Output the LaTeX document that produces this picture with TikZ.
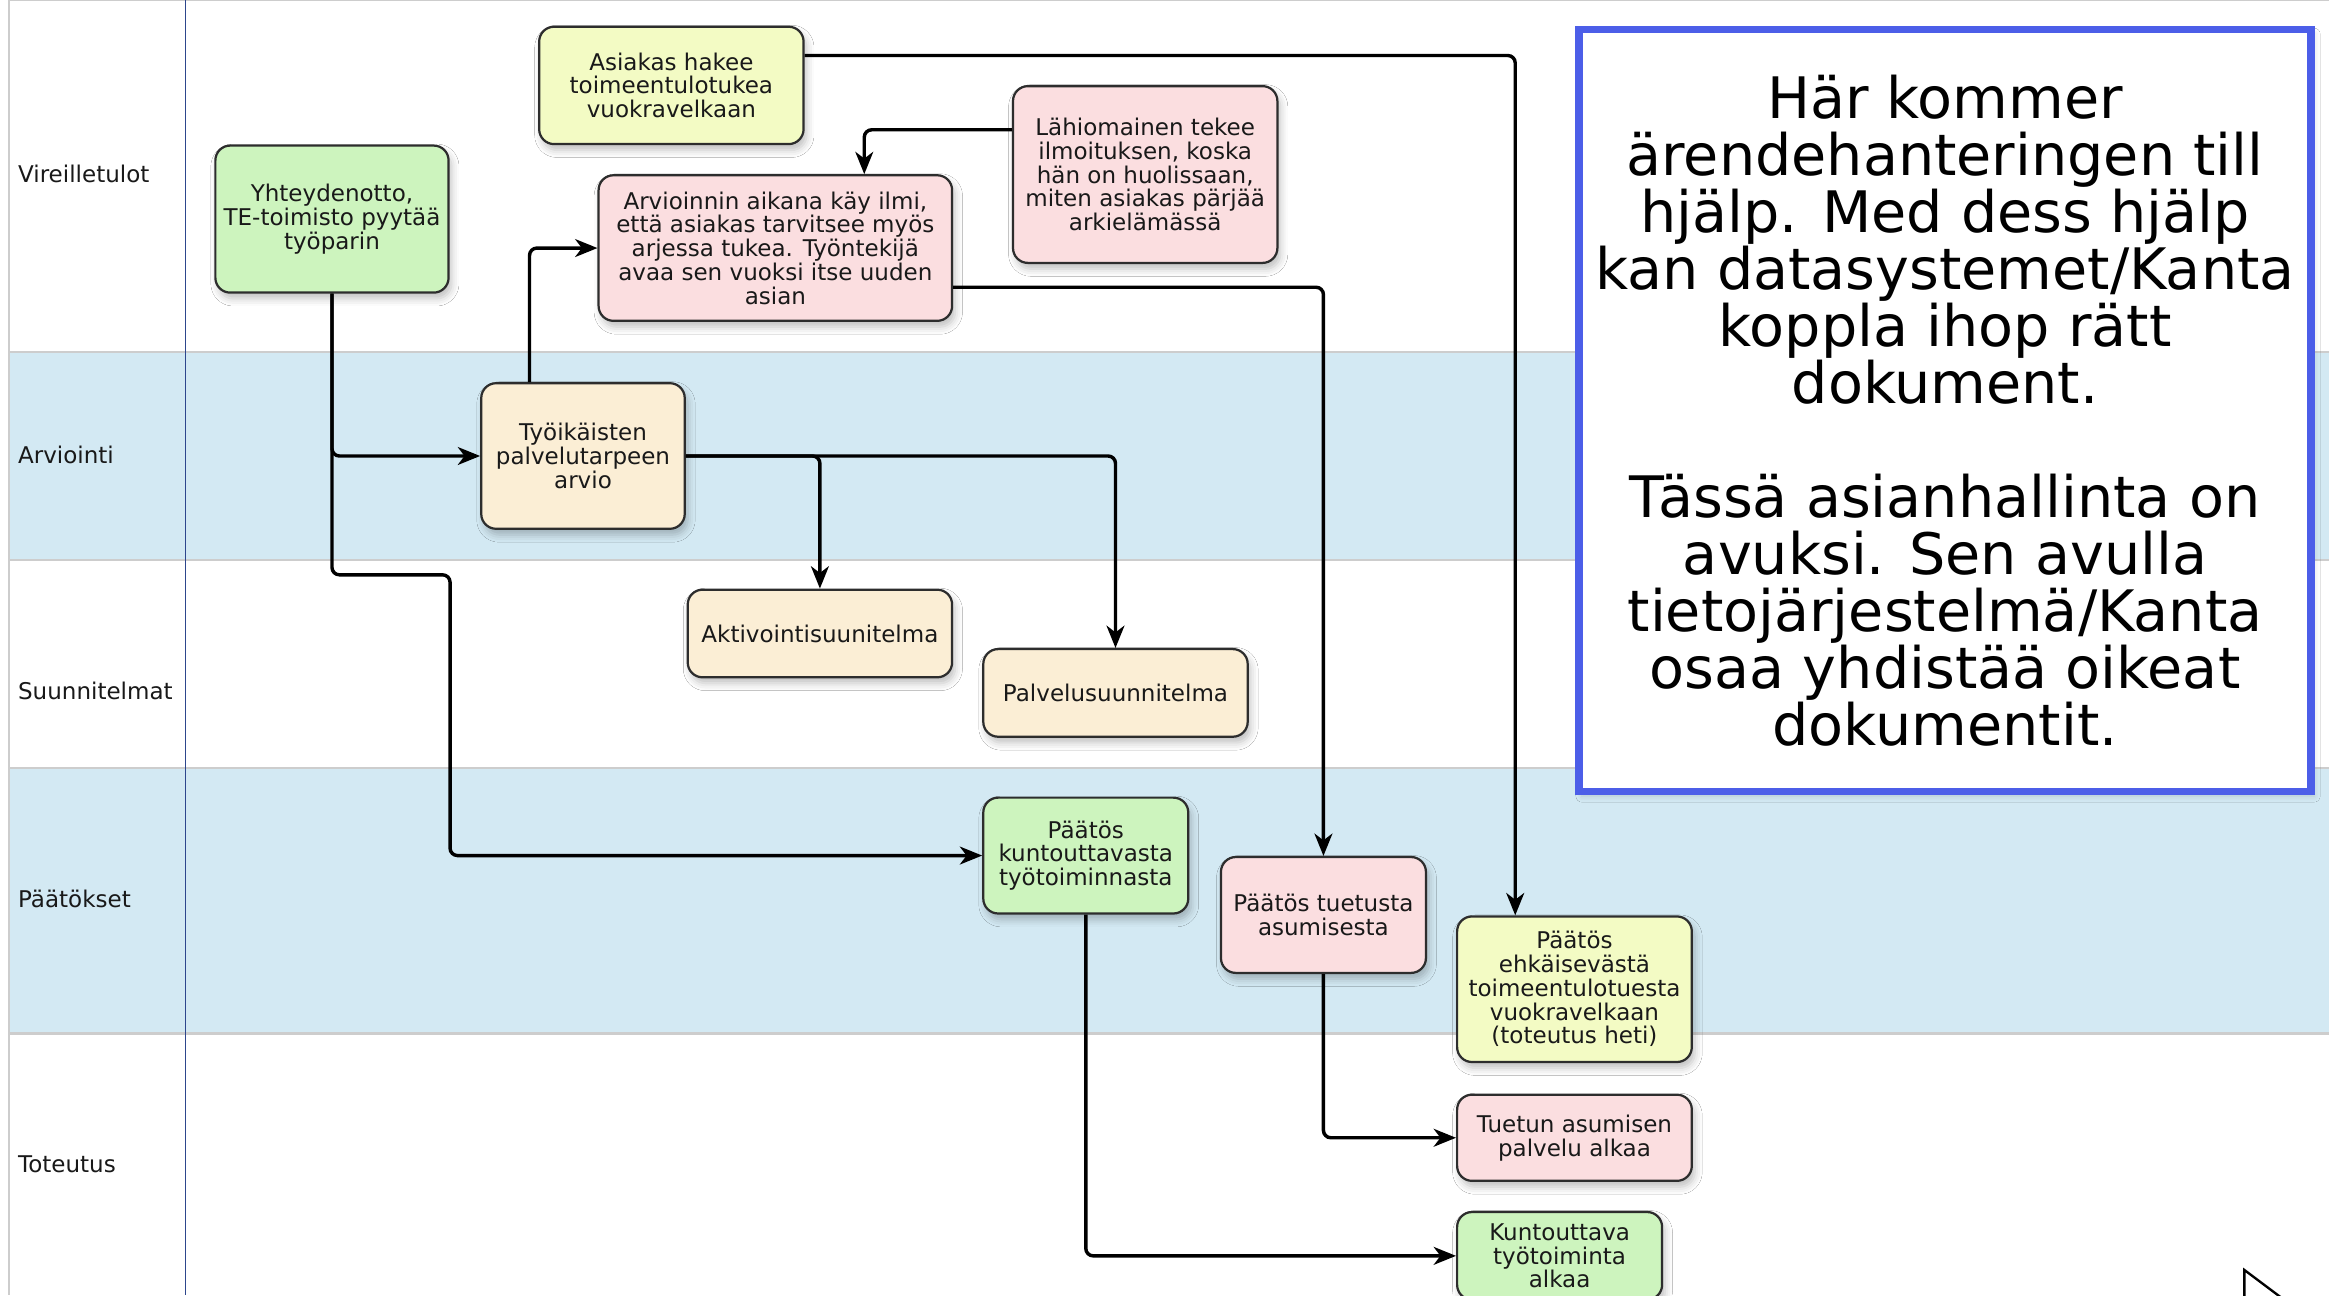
\documentclass[tikz,border=0pt]{standalone}
\usepackage{fontspec}
\setmainfont{DejaVu Sans}
\usetikzlibrary{arrows.meta,calc,shadows.blur}
\definecolor{lanebg}{RGB}{211,233,243}
\definecolor{sepgray}{RGB}{205,205,205}
\definecolor{vblue}{RGB}{45,70,140}
\definecolor{cgreen}{RGB}{205,244,190}
\definecolor{cyellow}{RGB}{243,251,196}
\definecolor{cpink}{RGB}{251,222,224}
\definecolor{ccream}{RGB}{251,238,213}
\definecolor{kblue}{RGB}{76,94,232}
\definecolor{boxline}{RGB}{45,45,45}
\definecolor{txt}{RGB}{25,25,25}
\begin{document}
\begin{tikzpicture}[x=1pt,y=-1pt,
  box/.style={draw=boxline, line width=1.5pt, rounded corners=10pt, align=center,
    text=txt, font=\fontsize{15.5}{16}\selectfont, inner sep=0pt,
    blur shadow={shadow xshift=2pt, shadow yshift=-4pt, shadow opacity=25, shadow blur radius=5pt}},
  conn/.style={line width=2.3pt, rounded corners=5pt, -{Stealth[length=15pt,width=12pt,inset=4.5pt]}},
  lanelabel/.style={anchor=west, font=\fontsize{15.5}{16}\selectfont, text=txt, inner sep=0pt},
  sepline/.style={draw=sepgray, line width=1.8pt},
]
\useasboundingbox (0,0) rectangle (1568,872);
\clip (0,0) rectangle (1568,872);
\fill[white] (0,0) rectangle (1568,872);
% lanes
\fill[lanebg] (6,237) rectangle (1568,377);
\fill[lanebg] (6,517) rectangle (1568,696);
\draw[sepline, line width=1pt] (6,0.5) -- (1568,0.5);
\draw[sepline] (6,237) -- (1568,237);
\draw[sepline] (6,377) -- (1568,377);
\draw[sepline] (6,517) -- (1568,517);
\draw[sepline] (6,696) -- (1568,696);
\draw[sepgray, line width=1.5pt] (6,0) -- (6,872);
\draw[vblue, line width=1pt] (125,0) -- (125,872);
\node[lanelabel] (l1) at (12,117) {Vireilletulot};
\node[lanelabel] (l2) at (12,306) {Arviointi};
\node[lanelabel] (l3) at (12,465) {Suunnitelmat};
\node[lanelabel] (l4) at (12,605) {Päätökset};
\node[lanelabel] (l5) at (12,784) {Toteutus};

% boxes
\node[box, fill=cyellow, minimum width=178pt, minimum height=79pt] (b1) at (452,57.5)
  {Asiakas hakee\\toimeentulotukea\\vuokravelkaan};
\node[box, fill=cgreen, minimum width=157pt, minimum height=99pt] (b2) at (223.5,147.5)
  {Yhteydenotto,\\TE-toimisto pyytää\\työparin};
\node[box, fill=cpink, minimum width=238pt, minimum height=98pt] (b3) at (522,167)
  {Arvioinnin aikana käy ilmi,\\että asiakas tarvitsee myös\\arjessa tukea. Työntekijä\\avaa sen vuoksi itse uuden\\asian};
\node[box, fill=cpink, minimum width=178pt, minimum height=119pt] (b4) at (771,117.5)
  {Lähiomainen tekee\\ilmoituksen, koska\\hän on huolissaan,\\miten asiakas pärjää\\arkielämässä};
\node[box, fill=ccream, minimum width=137pt, minimum height=98pt] (b5) at (392.5,307)
  {Työikäisten\\palvelutarpeen\\arvio};
\node[box, fill=ccream, minimum width=178pt, minimum height=59pt] (b6) at (552,426.5)
  {Aktivointisuunitelma};
\node[box, fill=ccream, minimum width=178pt, minimum height=59pt] (b7) at (751,466.5)
  {Palvelusuunnitelma};
\node[box, fill=cgreen, minimum width=138pt, minimum height=78pt] (b8) at (731,576)
  {Päätös\\kuntouttavasta\\työtoiminnasta};
\node[box, fill=cpink, minimum width=138pt, minimum height=78pt] (b9) at (891,616)
  {Päätös tuetusta\\asumisesta};
\node[box, fill=cyellow, minimum width=158pt, minimum height=98pt] (b10) at (1060,666)
  {Päätös\\ehkäisevästä\\toimeentulotuesta\\vuokravelkaan\\(toteutus heti)};
\node[box, fill=cpink, minimum width=158pt, minimum height=58pt] (b11) at (1060,766)
  {Tuetun asumisen\\palvelu alkaa};
\node[box, fill=cgreen, minimum width=138pt, minimum height=59pt] (b12) at (1050,845.5)
  {Kuntouttava\\työtoiminta\\alkaa};

% note box
\node[draw=kblue, line width=5pt, fill=white, minimum width=493pt, minimum height=513pt,
  align=center, text=black, font=\fontsize{38.5}{38.4}\selectfont, inner sep=0pt,
  blur shadow={shadow xshift=2pt, shadow yshift=-3pt, shadow opacity=15, shadow blur radius=4pt}]
  (note) at (1309.5,276.5)
  {Här kommer\\ärendehanteringen till\\hjälp. Med dess hjälp\\kan datasystemet/Kanta\\koppla ihop rätt\\dokument.\\[38.4pt]Tässä asianhallinta on\\avuksi. Sen avulla\\tietojärjestelmä/Kanta\\osaa yhdistää oikeat\\dokumentit.};

% connectors
\coordinate (c1) at (303,387);
\draw[conn] ($(b1.north east)!0.25!(b1.south east)$) -| ($(b10.north west)!0.25!(b10.north east)$);
\draw[conn] (b2.south) |- (b5.west);
\draw[conn] (b2.south) -- (b2.south |- c1) -- (c1) |- (b8.west);
\draw[conn] ($(b5.north west)!0.24!(b5.north east)$) |- (b3.west);
\draw[conn] (b5.east) -| (b6.north);
\draw[conn] (b5.east) -| (b7.north);
\draw[conn] ($(b4.north west)!0.25!(b4.south west)$) -| ($(b3.north west)!0.75!(b3.north east)$);
\draw[conn] ($(b3.north east)!0.765!(b3.south east)$) -| (b9.north);
\draw[conn] (b8.south) |- (b12.west);
\draw[conn] (b9.south) |- (b11.west);

% mouse cursor
\draw[line width=1.6pt, fill=white, line join=miter] (1511,855) -- (1511,895) -- (1519,887) -- (1535,873) -- cycle;
\end{tikzpicture}
\end{document}
